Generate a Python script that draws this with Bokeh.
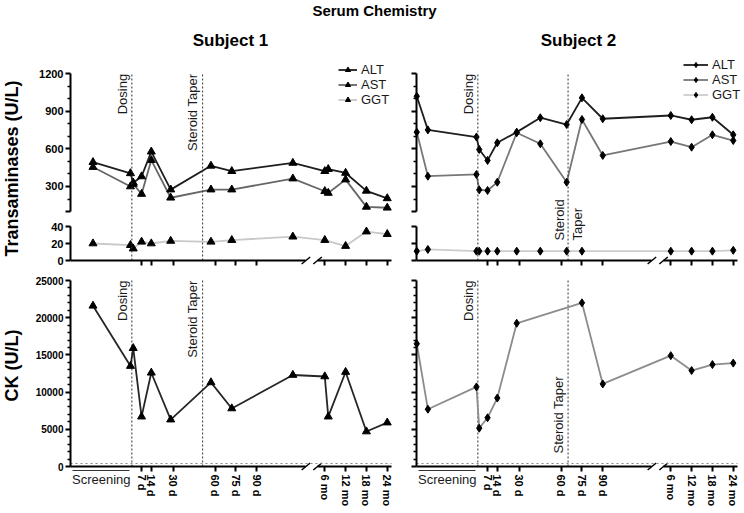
import math
from bokeh.plotting import figure
from bokeh.models import Range1d, LinearAxis, FixedTicker, Label, Legend, LegendItem
from bokeh.embed import file_html
from bokeh.resources import INLINE

# ---------------- data ----------------
dosing_day = 0
taper_day_s1 = 51
taper_day_s2 = 65

day_ticks = [7, 14, 30, 60, 75, 90]
day_tick_labels = ["7 d", "14 d", "30 d", "60 d", "75 d", "90 d"]
month_ticks = [6, 12, 18, 24]
month_tick_labels = ["6 mo", "12 mo", "18 mo", "24 mo"]

s1_days = [-28, -1, 1, 7, 14, 28, 57, 72, 116]
s1_months = [6, 7, 12, 18, 24]
s1_alt = [494, 405, 330, 380, 578, 275, 465, 422, 488, 422, 438, 408, 265, 205]
s1_ast = [455, 300, 320, 240, 510, 210, 275, 275, 363, 262, 248, 355, 137, 130]
s1_ck = [21600, 13500, 15900, 6700, 12600, 6300, 11300, 7800, 12300, 12100, 6700, 12700, 4700, 5900]
s1_ggt_days = [-28, -1, 1, 7, 14, 28, 57, 72, 116]
s1_ggt_months = [6, 12, 18, 24]
s1_ggt = [20, 18, 14, 22, 20, 23, 22, 24, 28, 24, 17, 34, 31]

s2_days = [-44, -36, -1, 1, 7, 14, 28, 45, 64, 75, 90]
s2_months = [6, 12, 18, 24]
s2_alt = [1020, 752, 695, 595, 508, 649, 734, 849, 795, 1008, 841, 867, 833, 853, 713]
s2_ast = [734, 382, 396, 273, 268, 334, 729, 641, 334, 835, 548, 659, 614, 713, 667]
s2_ggt_days = [-44, -36, -1, 1, 7, 14, 28, 45, 64, 75]
s2_ggt_months = [6, 12, 18, 24]
s2_ggt = [11, 13, 11, 11, 11, 11, 11, 11, 11, 11, 11, 11, 11, 12]
s2_ck_days = [-44, -36, -1, 1, 7, 14, 28, 75, 90]
s2_ck_months = [6, 12, 18, 24]
s2_ck = [16500, 7700, 10700, 5150, 6550, 9200, 19250, 22000, 11100, 14900, 12900, 13700, 13900]

ck_uln = 400

# ---------------- layout constants (pixels) ----------------
FONT = "Liberation Sans"
W, H = 743, 512
PX_DAY = 1.388
X_START = -44.2
X_END = X_START + 321 / PX_DAY
MONTH0, MONTH_W = 124.0, 2.5          # compressed month section after the axis break
BREAK_LO, BREAK_HI = 125.4, 133.8
S1_AXIS_PX, S2_AXIS_PX = 70, 416


def xpos(days, months):
    return [float(d) for d in days] + [MONTH0 + MONTH_W * m for m in months]


month_pos = [int(round(MONTH0 + MONTH_W * m)) for m in month_ticks]

UP_PX, UP_1200 = 0.1252, 73.3      # px per U/L, pixel y of 1200
GGT_PX, GGT_0 = 0.85, 260.0
CK_PX, CK_0 = 186 / 25000, 466.0
SCREEN_Y = (CK_0 - 470) / CK_PX

p = figure(width=W, height=H, x_range=Range1d(0, W), y_range=Range1d(H, 0),
           x_axis_type=None, y_axis_type=None, toolbar_location=None,
           output_backend="svg", title_location=None, min_border=0)
p.outline_line_color = None
p.background_fill_color = "white"
p.border_fill_color = "white"

x0_s1 = X_START - S1_AXIS_PX / PX_DAY
x0_s2 = X_START - S2_AXIS_PX / PX_DAY
p.extra_x_ranges = {"s1": Range1d(x0_s1, x0_s1 + W / PX_DAY),
                    "s2": Range1d(x0_s2, x0_s2 + W / PX_DAY)}
p.extra_y_ranges = {
    "upper": Range1d(1200 - (H - UP_1200) / UP_PX, 1200 + UP_1200 / UP_PX),
    "ggt": Range1d(-(H - GGT_0) / GGT_PX, GGT_0 / GGT_PX),
    "ck": Range1d(-(H - CK_0) / CK_PX, CK_0 / CK_PX),
}


def style_axis(ax, size="11px", bold=True):
    ax.axis_line_width = 2
    ax.axis_line_color = "black"
    ax.major_tick_line_width = 2
    ax.major_tick_line_color = "black"
    ax.major_tick_out = 5
    ax.major_tick_in = 0
    ax.minor_tick_line_width = 1.5
    ax.minor_tick_line_color = "black"
    ax.minor_tick_out = 3
    ax.minor_tick_in = 0
    ax.major_label_text_font = FONT
    ax.major_label_text_font_size = size
    ax.major_label_text_font_style = "bold" if bold else "normal"
    ax.major_label_text_color = "black"
    ax.major_label_standoff = 2


def y_axis(xr, yr, lo, hi, ticks, minor, labeled, size):
    eps = (hi - lo) * 0.001
    ax = LinearAxis(x_range_name=xr, y_range_name=yr, fixed_location=X_START,
                    bounds=(lo - eps, hi + eps),
                    ticker=FixedTicker(ticks=ticks, minor_ticks=minor))
    style_axis(ax, size)
    ax.major_label_overrides = {t: (str(t) if t in labeled else "") for t in ticks}
    p.add_layout(ax, "left")


def x_axes(xr, yr, labels_on):
    for lo, hi, ticks, labs in [(X_START, BREAK_LO, day_ticks, day_tick_labels),
                                (BREAK_HI, X_END, month_pos, month_tick_labels)]:
        ax = LinearAxis(x_range_name=xr, y_range_name=yr, fixed_location=0, bounds=(lo, hi),
                        ticker=FixedTicker(ticks=ticks, minor_ticks=[]))
        style_axis(ax)
        ax.major_label_standoff = 3
        ax.major_label_overrides = {int(t): (l if labels_on else "") for t, l in zip(ticks, labs)}
        ax.major_label_orientation = "vertical"
        p.add_layout(ax, "below")
    p.scatter([BREAK_LO, BREAK_HI], [0, 0], x_range_name=xr, y_range_name=yr,
              marker="dash", size=11, angle=0.68, line_color="black", line_width=1.5)


def vline(xr, yr, x, top):
    p.segment(x0=[x], y0=[0], x1=[x], y1=[top], x_range_name=xr, y_range_name=yr,
              line_dash="2 2", line_color="#333333", line_width=1)


def vtext(xr, yr, text, x, y, align, baseline, xoff):
    p.add_layout(Label(x=x, y=y, x_range_name=xr, y_range_name=yr, text=text,
                       angle=math.pi / 2, text_align=align, text_baseline=baseline,
                       x_offset=xoff, text_font=FONT, text_font_size="13px",
                       text_color="#1a1a1a"))


def text(x, y, t, size, bold=True, angle=0.0, baseline="middle"):
    p.add_layout(Label(x=x, y=y, text=t, angle=angle, text_align="center", text_baseline=baseline,
                       text_font=FONT, text_font_size=size,
                       text_font_style="bold" if bold else "normal", text_color="black"))


def top_panel(xr, xs, alt, ast, xg, ggt, marker, msize, cols, leg_loc, leg_gw, ylabels):
    y_axis(xr, "upper", 100, 1200, [100, 300, 600, 900, 1200],
           [200, 400, 500, 700, 800, 1000, 1100],
           {300, 600, 900, 1200} if ylabels else set(), "11px")
    y_axis(xr, "ggt", 0, 40, [0, 20, 40], [], {0, 20, 40} if ylabels else set(), "11px")
    x_axes(xr, "ggt", False)

    g_l = p.line(xg, ggt, x_range_name=xr, y_range_name="ggt", line_color=cols[2], line_width=1.8)
    g_m = p.scatter(xg, ggt, x_range_name=xr, y_range_name="ggt", marker=marker, size=msize, color="black")
    a_l = p.line(xs, ast, x_range_name=xr, y_range_name="upper", line_color=cols[1], line_width=1.8)
    a_m = p.scatter(xs, ast, x_range_name=xr, y_range_name="upper", marker=marker, size=msize, color="black")
    t_l = p.line(xs, alt, x_range_name=xr, y_range_name="upper", line_color=cols[0], line_width=1.8)
    t_m = p.scatter(xs, alt, x_range_name=xr, y_range_name="upper", marker=marker, size=msize, color="black")

    leg = Legend(items=[LegendItem(label="ALT", renderers=[t_l, t_m]),
                        LegendItem(label="AST", renderers=[a_l, a_m]),
                        LegendItem(label="GGT", renderers=[g_l, g_m])],
                 location=leg_loc, glyph_width=leg_gw, glyph_height=13, label_height=13,
                 label_standoff=4, spacing=0, padding=0, margin=0,
                 border_line_color=None, background_fill_alpha=0,
                 label_text_font=FONT, label_text_font_size="13px", label_text_color="#1a1a1a")
    p.add_layout(leg)


def ck_panel(xr, xs, ck, marker, msize, col, ylabels):
    y_axis(xr, "ck", 0, 25000, list(range(0, 25001, 5000)),
           [v for v in range(1000, 25000, 1000) if v % 5000],
           set(range(0, 25001, 5000)) if ylabels else set(), "10px")
    x_axes(xr, "ck", True)
    scr = LinearAxis(x_range_name=xr, y_range_name="ck", fixed_location=SCREEN_Y, bounds=(-43, -2),
                     ticker=FixedTicker(ticks=[-22], minor_ticks=[]))
    scr.axis_line_width = 1
    scr.axis_line_color = "#333333"
    scr.major_tick_out = 0
    scr.major_tick_in = 0
    scr.major_label_overrides = {-22: "Screening"}
    scr.major_label_text_font = FONT
    scr.major_label_text_font_size = "13px"
    scr.major_label_text_color = "#1a1a1a"
    scr.major_label_standoff = 1
    p.add_layout(scr, "below")
    p.segment(x0=[X_START], y0=[ck_uln], x1=[X_END], y1=[ck_uln], x_range_name=xr, y_range_name="ck",
              line_dash="2 3", line_color="#888888", line_width=1.2)
    p.line(xs, ck, x_range_name=xr, y_range_name="ck", line_color=col, line_width=1.8)
    p.scatter(xs, ck, x_range_name=xr, y_range_name="ck", marker=marker, size=msize, color="black")


GGT_TOP = (GGT_0 - UP_1200) / GGT_PX
CK_TOP = 25000

# ---------------- subject 1 ----------------
x1 = xpos(s1_days, s1_months)
x1g = xpos(s1_ggt_days, s1_ggt_months)
top_panel("s1", x1, s1_alt, s1_ast, x1g, s1_ggt, "triangle", 8,
          ["#1e1e1e", "#666666", "#c8c8c8"], (338, H - 107), 19, True)
for d in (dosing_day, taper_day_s1):
    vline("s1", "ggt", d, GGT_TOP)
    vline("s1", "ck", d, CK_TOP)
vtext("s1", "upper", "Dosing", dosing_day, 1200, "right", "bottom", -2)
vtext("s1", "upper", "Steroid Taper", taper_day_s1, 1200, "right", "bottom", -3)
vtext("s1", "ck", "Dosing", dosing_day, CK_TOP, "right", "bottom", -2)
vtext("s1", "ck", "Steroid Taper", taper_day_s1, CK_TOP, "right", "bottom", -3)
ck_panel("s1", x1, s1_ck, "triangle", 8, "#262626", True)

# ---------------- subject 2 ----------------
x2 = xpos(s2_days, s2_months)
x2g = xpos(s2_ggt_days, s2_ggt_months)
x2c = xpos(s2_ck_days, s2_ck_months)
top_panel("s2", x2, s2_alt, s2_ast, x2g, s2_ggt, "diamond", 8,
          ["#1e1e1e", "#777777", "#cccccc"], (683, H - 102), 25, False)
for d in (dosing_day, taper_day_s2):
    vline("s2", "ggt", d, GGT_TOP)
    vline("s2", "ck", d, CK_TOP)
vtext("s2", "upper", "Dosing", dosing_day, 1200, "right", "bottom", -2)
vtext("s2", "ggt", "Steroid", taper_day_s2, 23.5, "left", "bottom", -1)
vtext("s2", "ggt", "Taper", taper_day_s2, 23.5, "left", "top", 2)
vtext("s2", "ck", "Dosing", dosing_day, CK_TOP, "right", "bottom", -2)
vtext("s2", "ck", "Steroid Taper", taper_day_s2, 1750, "left", "bottom", -2)
ck_panel("s2", x2c, s2_ck, "diamond", 8, "#8c8c8c", False)

# ---------------- titles ----------------
text(374, 10, "Serum Chemistry", "15px")
text(230, 40, "Subject 1", "17px")
text(578, 40, "Subject 2", "17px")
text(11, 168, "Transaminases (U/L)", "18px", angle=math.pi / 2)
text(11, 365, "CK (U/L)", "18px", angle=math.pi / 2)

open("out.html", "w").write(file_html(p, INLINE))
